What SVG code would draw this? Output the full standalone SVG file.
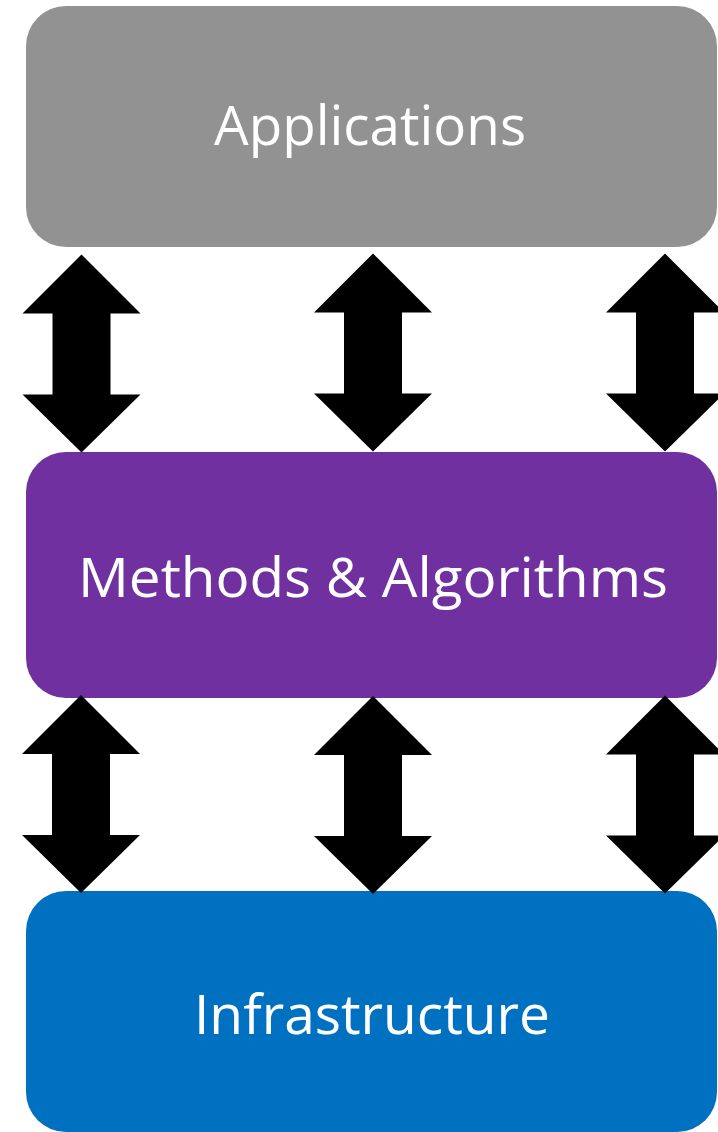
<svg xmlns="http://www.w3.org/2000/svg" width="718" height="1132" viewBox="0 0 718 1132">
  <defs>
    <style>
      .layer-label { font-family: "Open Sans", "Noto Sans", "Liberation Sans", sans-serif; font-size: 54px; fill: #ffffff; text-anchor: middle; }
      .dbl-arrow { fill: #000000; }
    </style>
    <!-- double-headed block arrow centred on x=0, spanning y=0..198 -->
    <path id="dblArrow" d="M0,0 L59,59 L29,59 L29,140 L59,140 L0,198 L-59,140 L-29,140 L-29,59 L-59,59 Z"/>
  </defs>
  <rect width="718" height="1132" fill="#ffffff"/>

  <g id="applications">
    <rect x="26" y="6" width="691" height="241" rx="40" ry="40" fill="#929292"/>
    <text class="layer-label" x="370" y="145" textLength="312" lengthAdjust="spacingAndGlyphs">Applications</text>
  </g>

  <g id="methods-algorithms">
    <rect x="26" y="452" width="691" height="246" rx="40" ry="40" fill="#7030a0"/>
    <text class="layer-label" x="373" y="597" textLength="590" lengthAdjust="spacingAndGlyphs">Methods &amp; Algorithms</text>
  </g>

  <g id="infrastructure">
    <rect x="26" y="891" width="691" height="241" rx="40" ry="40" fill="#0070c0"/>
    <text class="layer-label" x="372" y="1034" textLength="356" lengthAdjust="spacingAndGlyphs">Infrastructure</text>
  </g>

  <g id="connectors">
    <use href="#dblArrow" class="dbl-arrow" x="81.5" y="254.5"/>
    <use href="#dblArrow" class="dbl-arrow" x="373" y="253.5"/>
    <use href="#dblArrow" class="dbl-arrow" x="665" y="253.5"/>
    <use href="#dblArrow" class="dbl-arrow" x="81" y="695"/>
    <use href="#dblArrow" class="dbl-arrow" x="373" y="696"/>
    <use href="#dblArrow" class="dbl-arrow" x="665" y="695.5"/>
  </g>
</svg>
